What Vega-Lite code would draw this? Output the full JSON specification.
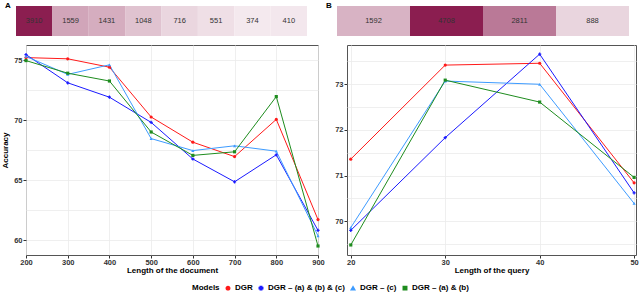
{
  "$schema": "https://vega.github.io/schema/vega-lite/v6.json",
  "padding": {"left": 1, "top": 2, "right": 2, "bottom": 1},
  "background": "white",
  "config": {
    "font": "Liberation Sans",
    "view": {"stroke": "#555", "strokeWidth": 1},
    "axis": {
      "labelFont": "Liberation Sans", "labelFontSize": 7.5, "labelFontWeight": "bold", "labelColor": "#333",
      "titleFont": "Liberation Sans", "titleFontSize": 8, "titleFontWeight": "bold", "titleColor": "#000",
      "tickColor": "#333", "tickSize": 3, "domain": false, "gridColor": "#ebebeb", "gridWidth": 0.8,
      "labelPadding": 1, "titlePadding": 2, "labelFlush": false, "labelOverlap": false
    },
    "axisX": {"labelPadding": 0, "titlePadding": 1},
    "legend": {
      "orient": "none", "legendX": 166, "legendY": 278, "direction": "horizontal", "titleOrient": "left",
      "titleFont": "Liberation Sans", "titleFontSize": 8, "titleFontWeight": "bold", "titleColor": "#000",
      "labelFont": "Liberation Sans", "labelFontSize": 8, "labelFontWeight": "bold", "labelColor": "#000",
      "symbolSize": 12, "columnPadding": 3, "labelLimit": 200, "titlePadding": 4, "labelOffset": 3
    }
  },
  "datasets": {
    "docCounts": [
      {"seg": 1, "n": 3910}, {"seg": 2, "n": 1559}, {"seg": 3, "n": 1431}, {"seg": 4, "n": 1048},
      {"seg": 5, "n": 716}, {"seg": 6, "n": 551}, {"seg": 7, "n": 374}, {"seg": 8, "n": 410}
    ],
    "queryCounts": [
      {"seg": 1, "n": 1592}, {"seg": 2, "n": 4708}, {"seg": 3, "n": 2811}, {"seg": 4, "n": 888}
    ],
    "doc": [
      {"model": "DGR", "len": 200, "acc": 75.2}, {"model": "DGR", "len": 300, "acc": 75.1},
      {"model": "DGR", "len": 400, "acc": 74.4}, {"model": "DGR", "len": 500, "acc": 70.25},
      {"model": "DGR", "len": 600, "acc": 68.15}, {"model": "DGR", "len": 700, "acc": 66.95},
      {"model": "DGR", "len": 800, "acc": 70.05}, {"model": "DGR", "len": 900, "acc": 61.7},
      {"model": "DGR – (a) & (b) & (c)", "len": 200, "acc": 75.45}, {"model": "DGR – (a) & (b) & (c)", "len": 300, "acc": 73.1},
      {"model": "DGR – (a) & (b) & (c)", "len": 400, "acc": 71.9}, {"model": "DGR – (a) & (b) & (c)", "len": 500, "acc": 69.8},
      {"model": "DGR – (a) & (b) & (c)", "len": 600, "acc": 66.75}, {"model": "DGR – (a) & (b) & (c)", "len": 700, "acc": 64.85},
      {"model": "DGR – (a) & (b) & (c)", "len": 800, "acc": 67.1}, {"model": "DGR – (a) & (b) & (c)", "len": 900, "acc": 60.8},
      {"model": "DGR – (c)", "len": 200, "acc": 75.3}, {"model": "DGR – (c)", "len": 300, "acc": 73.8},
      {"model": "DGR – (c)", "len": 400, "acc": 74.6}, {"model": "DGR – (c)", "len": 500, "acc": 68.45},
      {"model": "DGR – (c)", "len": 600, "acc": 67.45}, {"model": "DGR – (c)", "len": 700, "acc": 67.85},
      {"model": "DGR – (c)", "len": 800, "acc": 67.4}, {"model": "DGR – (c)", "len": 900, "acc": 60.35},
      {"model": "DGR – (a) & (b)", "len": 200, "acc": 74.95}, {"model": "DGR – (a) & (b)", "len": 300, "acc": 73.9},
      {"model": "DGR – (a) & (b)", "len": 400, "acc": 73.25}, {"model": "DGR – (a) & (b)", "len": 500, "acc": 69.0},
      {"model": "DGR – (a) & (b)", "len": 600, "acc": 67.05}, {"model": "DGR – (a) & (b)", "len": 700, "acc": 67.35},
      {"model": "DGR – (a) & (b)", "len": 800, "acc": 71.95}, {"model": "DGR – (a) & (b)", "len": 900, "acc": 59.5}
    ],
    "query": [
      {"model": "DGR", "len": 20, "acc": 71.36}, {"model": "DGR", "len": 30, "acc": 73.42},
      {"model": "DGR", "len": 40, "acc": 73.46}, {"model": "DGR", "len": 50, "acc": 70.84},
      {"model": "DGR – (a) & (b) & (c)", "len": 20, "acc": 69.8}, {"model": "DGR – (a) & (b) & (c)", "len": 30, "acc": 71.83},
      {"model": "DGR – (a) & (b) & (c)", "len": 40, "acc": 73.66}, {"model": "DGR – (a) & (b) & (c)", "len": 50, "acc": 70.62},
      {"model": "DGR – (c)", "len": 20, "acc": 69.86}, {"model": "DGR – (c)", "len": 30, "acc": 73.07},
      {"model": "DGR – (c)", "len": 40, "acc": 73.0}, {"model": "DGR – (c)", "len": 50, "acc": 70.39},
      {"model": "DGR – (a) & (b)", "len": 20, "acc": 69.48}, {"model": "DGR – (a) & (b)", "len": 30, "acc": 73.09},
      {"model": "DGR – (a) & (b)", "len": 40, "acc": 72.61}, {"model": "DGR – (a) & (b)", "len": 50, "acc": 70.96}
    ]
  },
  "resolve": {"scale": {"fill": "independent"}},
  "spacing": 1,
  "hconcat": [
    {
      "spacing": 8,
      "vconcat": [
        {
          "width": 292, "height": 30,
          "view": {"stroke": null},
          "title": {"text": "A", "anchor": "start", "frame": "group", "align": "left", "baseline": "alphabetic", "offset": 0, "dx": -21, "dy": 10, "fontSize": 8, "fontWeight": "bold", "font": "Liberation Sans", "color": "#000"},
          "data": {"name": "docCounts"},
          "encoding": {"x": {"field": "seg", "type": "ordinal", "axis": null, "scale": {"range": [-10, 281], "paddingInner": 0, "paddingOuter": 0}}},
          "layer": [
            {"mark": {"type": "rect"}, "encoding": {"fill": {"field": "n", "type": "quantitative", "legend": null, "scale": {"domainMin": 0, "range": ["#ffffff", "#8b1e50"], "interpolate": "rgb"}}}},
            {"mark": {"type": "text", "fontSize": 7.5, "color": "#333", "font": "Liberation Sans", "baseline": "middle"}, "encoding": {"text": {"field": "n", "type": "quantitative", "format": "d"}}}
          ]
        },
        {
          "width": 292, "height": 210,
          "data": {"name": "doc"},
          "encoding": {
            "x": {"field": "len", "type": "quantitative", "title": "Length of the document", "scale": {"domain": [200, 900], "nice": false, "zero": false}, "axis": {"values": [200, 300, 400, 500, 600, 700, 800, 900]}},
            "y": {"field": "acc", "type": "quantitative", "title": "Accuracy", "scale": {"domain": [58.75, 76.25], "nice": false, "zero": false},
                  "axis": {"values": [60, 62.5, 65, 67.5, 70, 72.5, 75], "titlePadding": 4, "labelExpr": "datum.value % 5 === 0 ? format(datum.value, 'd') : ''", "tickOpacity": {"condition": {"test": "datum.value % 5 === 0", "value": 1}, "value": 0}}},
            "color": {"field": "model", "type": "nominal", "title": "Models",
                      "scale": {"domain": ["DGR", "DGR – (a) & (b) & (c)", "DGR – (c)", "DGR – (a) & (b)"], "range": ["#ff1a1a", "#1a1aff", "#3d9bff", "#1e8c1e"]}}
          },
          "layer": [
            {"mark": {"type": "line", "strokeWidth": 1}},
            {"mark": {"type": "point", "filled": true, "size": 10, "opacity": 1},
             "encoding": {"shape": {"field": "model", "type": "nominal", "title": "Models", "scale": {"domain": ["DGR", "DGR – (a) & (b) & (c)", "DGR – (c)", "DGR – (a) & (b)"], "range": ["circle", "cross", "triangle-up", "square"]}}}}
          ]
        }
      ]
    },
    {
      "spacing": 8,
      "vconcat": [
        {
          "width": 289, "height": 30,
          "view": {"stroke": null},
          "title": {"text": "B", "anchor": "start", "frame": "group", "align": "left", "baseline": "alphabetic", "offset": 0, "dx": -21, "dy": 10, "fontSize": 8, "fontWeight": "bold", "font": "Liberation Sans", "color": "#000"},
          "data": {"name": "queryCounts"},
          "encoding": {"x": {"field": "seg", "type": "ordinal", "axis": null, "scale": {"range": [-10, 282], "paddingInner": 0, "paddingOuter": 0}}},
          "layer": [
            {"mark": {"type": "rect"}, "encoding": {"fill": {"field": "n", "type": "quantitative", "legend": null, "scale": {"domainMin": 0, "range": ["#ffffff", "#8b1e50"], "interpolate": "rgb"}}}},
            {"mark": {"type": "text", "fontSize": 7.5, "color": "#333", "font": "Liberation Sans", "baseline": "middle"}, "encoding": {"text": {"field": "n", "type": "quantitative", "format": "d"}}}
          ]
        },
        {
          "width": 289, "height": 210,
          "data": {"name": "query"},
          "encoding": {
            "x": {"field": "len", "type": "quantitative", "title": "Length of the query", "scale": {"domain": [19.6, 50.2], "nice": false, "zero": false}, "axis": {"values": [20, 30, 40, 50]}},
            "y": {"field": "acc", "type": "quantitative", "title": null, "scale": {"domain": [69.26, 73.86], "nice": false, "zero": false},
                  "axis": {"values": [69.5, 70, 70.5, 71, 71.5, 72, 72.5, 73, 73.5], "labelExpr": "datum.value % 1 === 0 ? format(datum.value, 'd') : ''", "tickOpacity": {"condition": {"test": "datum.value % 1 === 0", "value": 1}, "value": 0}}},
            "color": {"field": "model", "type": "nominal", "title": "Models",
                      "scale": {"domain": ["DGR", "DGR – (a) & (b) & (c)", "DGR – (c)", "DGR – (a) & (b)"], "range": ["#ff1a1a", "#1a1aff", "#3d9bff", "#1e8c1e"]}}
          },
          "layer": [
            {"mark": {"type": "line", "strokeWidth": 1}},
            {"mark": {"type": "point", "filled": true, "size": 10, "opacity": 1},
             "encoding": {"shape": {"field": "model", "type": "nominal", "title": "Models", "scale": {"domain": ["DGR", "DGR – (a) & (b) & (c)", "DGR – (c)", "DGR – (a) & (b)"], "range": ["circle", "cross", "triangle-up", "square"]}}}}
          ]
        }
      ]
    }
  ]
}
